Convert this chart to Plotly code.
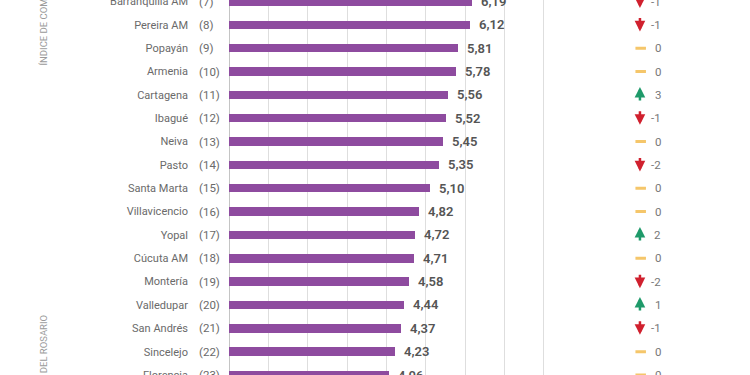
import plotly.graph_objects as go

# ---- data ----
cities = ["Barranquilla AM", "Pereira AM", "Popayán", "Armenia", "Cartagena", "Ibagué",
          "Neiva", "Pasto", "Santa Marta", "Villavicencio", "Yopal", "Cúcuta AM",
          "Montería", "Valledupar", "San Andrés", "Sincelejo", "Florencia"]
ranks = [7, 8, 9, 10, 11, 12, 13, 14, 15, 16, 17, 18, 19, 20, 21, 22, 23]
scores = [6.19, 6.12, 5.81, 5.78, 5.56, 5.52, 5.45, 5.35, 5.10, 4.82, 4.72, 4.71,
          4.58, 4.44, 4.37, 4.23, 4.06]
changes = [-1, -1, 0, 0, 3, -1, 0, -2, 0, 0, 2, 0, -2, 1, -1, 0, 0]
grid_ticks = [0, 1, 2, 3, 4, 5, 6, 7, 8, 9]

# ---- style ----
W, H = 750, 375
ML = 229
BAR = "#8e4b9f"
RED = "#d0202e"
GREEN = "#1e9a6a"
YELLOW = "#f5c66a"
FONT = "Roboto"

fig = go.Figure()
fig.add_trace(go.Bar(
    x=scores, y=cities, orientation="h",
    marker=dict(color=BAR, line=dict(width=0)),
    width=0.36, hoverinfo="skip", showlegend=False,
))

plot_w = W - ML
split = (583 - ML) / plot_w

annotations = []
for c, r, v, d in zip(cities, ranks, scores, changes):
    # rank column
    annotations.append(dict(
        x=(197 - ML) / plot_w, xref="paper", y=c, yref="y",
        text=f"({r})", showarrow=False, xanchor="left", yanchor="middle",
        font=dict(family=FONT, size=11.5, color="#6a6a6a"),
    ))
    # value label
    annotations.append(dict(
        x=v, xref="x", y=c, yref="y", text=f"{v:.2f}".replace(".", ","),
        showarrow=False, xanchor="left", yanchor="middle", xshift=7,
        font=dict(family=FONT, size=13, color="#555555", weight=600),
    ))
    # change number
    annotations.append(dict(
        x=0.48, xref="x2", y=c, yref="y", text=f"{d}",
        showarrow=False, xanchor="right", yanchor="middle",
        font=dict(family=FONT, size=11.5, color="#777777"),
    ))
    # change symbol (arrow always drawn from top point to bottom tail)
    if d < 0:
        annotations.append(dict(
            x=0.341, xref="x2", y=c, yref="y", text="", showarrow=True,
            ax=0, ay=15, axref="pixel", ayref="pixel", yshift=7,
            arrowside="start", arrowhead=2, startarrowhead=2, arrowsize=0.85,
            startarrowsize=0.85, arrowwidth=2.5, arrowcolor=RED,
            standoff=0, startstandoff=0,
        ))
    elif d > 0:
        annotations.append(dict(
            x=0.341, xref="x2", y=c, yref="y", text="", showarrow=True,
            ax=0, ay=15, axref="pixel", ayref="pixel", yshift=8,
            arrowhead=2, arrowsize=0.85, arrowwidth=2.5, arrowcolor=GREEN, standoff=0,
        ))
    else:
        annotations.append(dict(
            x=0.341, xref="x2", y=c, yref="y", text="", showarrow=True,
            ax=-12, ay=0, axref="pixel", ayref="pixel", xshift=6,
            arrowhead=0, arrowwidth=3, arrowcolor=YELLOW, standoff=0,
        ))

# vertical side texts
annotations.append(dict(
    x=(43 - ML) / plot_w, xref="paper", y=1 - 68 / H, yref="paper",
    text="ÍNDICE DE COMPETITIVIDAD DE CIUDADES", textangle=-90, showarrow=False,
    xanchor="center", yanchor="bottom",
    font=dict(family=FONT, size=9.5, color="#9a9a9a"),
))
annotations.append(dict(
    x=(43 - ML) / plot_w, xref="paper", y=1 - 313 / H, yref="paper",
    text="FUENTE: CONSEJO PRIVADO DE COMPETITIVIDAD Y UNIVERSIDAD DEL ROSARIO",
    textangle=-90, showarrow=False, xanchor="center", yanchor="top",
    font=dict(family=FONT, size=9.5, color="#9a9a9a"),
))

fig.update_layout(
    width=W, height=H,
    margin=dict(l=ML, r=0, t=0, b=0, pad=0, autoexpand=False),
    paper_bgcolor="white", plot_bgcolor="white",
    bargap=0,
    xaxis=dict(domain=[0, split], range=[0, 9], tickvals=grid_ticks,
               showticklabels=False, showgrid=True, gridcolor="#dedede", gridwidth=1,
               zeroline=True, zerolinecolor="#c4c4c4", zerolinewidth=1,
               showline=False, ticks="", automargin=False, fixedrange=True),
    xaxis2=dict(domain=[split, 1], range=[0, 1], anchor="y", visible=False),
    yaxis=dict(range=[16.0, -0.067], showgrid=False, zeroline=False, showline=False,
               ticks="", ticklabelstandoff=40, automargin=False, fixedrange=True,
               tickfont=dict(family=FONT, size=11, color="#6a6a6a")),
    annotations=annotations,
    font=dict(family=FONT),
)

fig.write_html(
    "out.html",
    config={"displayModeBar": False, "staticPlot": True},
    post_script="document.body.style.margin='0';document.body.style.overflow='hidden';",
)
